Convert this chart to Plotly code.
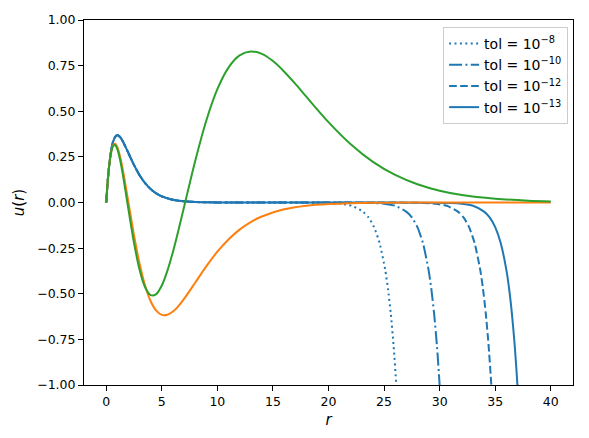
import plotly.graph_objects as go

# ---- data ----
# blue (ground-state-like) curve, common part before numerical divergence
r_blue = [0, 0.1, 0.2, 0.3, 0.4, 0.5, 0.6, 0.8, 1.0, 1.2, 1.5, 2, 2.5, 3, 3.5, 4, 4.5, 5, 6, 7, 8, 10, 12, 15]
u_blue = [0, 0.0905, 0.1637, 0.2222, 0.2681, 0.3033, 0.3293, 0.3595, 0.3679, 0.3614, 0.3347, 0.2707,
          0.2052, 0.1494, 0.1057, 0.0733, 0.0500, 0.0337, 0.0149, 0.0064, 0.0027, 0.0005, 0.0001, 0.0]

# divergent tails for each tolerance
r_tail_8 = [20.1, 21.1, 22.1, 23.1, 23.6, 24.1, 24.6, 25.1, 25.35, 25.6, 25.85, 26.1, 26.4]
u_tail_8 = [-0.0025, -0.0067, -0.018, -0.050, -0.082, -0.135, -0.223, -0.368, -0.472, -0.607, -0.779, -1.0, -1.35]
r_tail_10 = [20, 24, 25, 26, 27, 27.5, 28, 28.5, 29, 29.25, 29.5, 29.75, 30.0, 30.3]
u_tail_10 = [0, -0.0025, -0.0067, -0.018, -0.050, -0.082, -0.135, -0.223, -0.368, -0.472, -0.607, -0.779, -1.0, -1.35]
r_tail_12 = [20, 25, 28.65, 29.65, 30.65, 31.65, 32.15, 32.65, 33.15, 33.65, 33.9, 34.15, 34.4, 34.65, 34.95]
u_tail_12 = [0, 0, -0.0025, -0.0067, -0.018, -0.050, -0.082, -0.135, -0.223, -0.368, -0.472, -0.607, -0.779, -1.0, -1.35]
r_tail_13 = [20, 25, 31, 32, 33, 34, 34.5, 35, 35.5, 36, 36.25, 36.5, 36.75, 37.0, 37.3]
u_tail_13 = [0, 0, -0.0025, -0.0067, -0.018, -0.050, -0.082, -0.135, -0.223, -0.368, -0.472, -0.607, -0.779, -1.0, -1.35]

# orange curve
r_orange = [0, 0.2, 0.4, 0.6, 0.8, 1.0, 1.25, 1.5, 2, 2.5, 3, 3.5, 4, 4.5, 5, 5.5, 6, 6.5, 7, 8, 9, 10,
            11, 12, 13, 14, 16, 18, 20, 22, 25, 30, 35, 40]
u_orange = [0, 0.1629, 0.2620, 0.3111, 0.3217, 0.3033, 0.2509, 0.1771, 0.0, -0.1791, -0.3347, -0.4562,
            -0.5413, -0.5929, -0.6157, -0.6152, -0.5975, -0.5674, -0.5285, -0.4396, -0.3500, -0.2695,
            -0.2023, -0.1487, -0.1075, -0.0766, -0.0375, -0.0178, -0.0082, -0.0037, -0.0011, -0.0001, 0.0, 0.0]

# green curve
r_green = [0, 0.2, 0.4, 0.6, 0.8, 1.0, 1.25, 1.5, 1.9, 2.5, 3, 3.5, 4, 4.5, 5, 5.5, 6, 6.5, 7.1, 8, 9, 10,
           11, 12, 13, 14, 15, 16, 17, 18, 20, 22, 24, 26, 28, 30, 32, 35, 38, 40]
u_green = [0, 0.1627, 0.2609, 0.3078, 0.3150, 0.2919, 0.2327, 0.1517, 0.0, -0.2213, -0.3679, -0.4642,
           -0.5077, -0.5020, -0.4548, -0.3746, -0.2707, -0.1517, 0.0, 0.2264, 0.4481, 0.6209, 0.7393,
           0.8060, 0.8277, 0.8143, 0.7749, 0.7181, 0.6514, 0.5801, 0.4404, 0.3192, 0.2228, 0.1512,
           0.1001, 0.0649, 0.0414, 0.0209, 0.0099, 0.0060]

tol_labels = ["tol = 10<sup>\u22128</sup>", "tol = 10<sup>\u221210</sup>",
              "tol = 10<sup>\u221212</sup>", "tol = 10<sup>\u221213</sup>"]
x_ticks = [0, 5, 10, 15, 20, 25, 30, 35, 40]
y_ticks = [-1.0, -0.75, -0.5, -0.25, 0.0, 0.25, 0.5, 0.75, 1.0]

BLUE, ORANGE, GREEN = "#1f77b4", "#ff7f0e", "#2ca02c"
dashes = ["2px,3.4px", "13px,3.3px,2px,3.3px", "7.7px,3.3px", "solid"]
tails = [(r_tail_8, u_tail_8), (r_tail_10, u_tail_10), (r_tail_12, u_tail_12), (r_tail_13, u_tail_13)]

fig = go.Figure()
for lab, dash, (rt, ut) in zip(tol_labels, dashes, tails):
    fig.add_trace(go.Scatter(x=r_blue + rt, y=u_blue + ut, mode="lines", name=lab,
                             line=dict(color=BLUE, width=2, dash=dash, shape="spline", smoothing=0.6)))
fig.add_trace(go.Scatter(x=r_orange, y=u_orange, mode="lines", showlegend=False,
                         line=dict(color=ORANGE, width=2, shape="spline", smoothing=0.8)))
fig.add_trace(go.Scatter(x=r_green, y=u_green, mode="lines", showlegend=False,
                         line=dict(color=GREEN, width=2, shape="spline", smoothing=0.8)))

font = dict(family="DejaVu Sans", size=12.5, color="black")
fig.update_layout(
    width=589, height=438,
    margin=dict(l=84, r=16, t=15, b=53),
    paper_bgcolor="white", plot_bgcolor="white",
    font=font,
    showlegend=True,
    legend=dict(x=0.99, y=0.981, xanchor="right", yanchor="top",
                bgcolor="rgba(255,255,255,0.8)", bordercolor="#cccccc", borderwidth=1,
                font=dict(family="DejaVu Sans", size=14, color="black"),
                tracegroupgap=0, itemwidth=30),
)
fig.update_xaxes(range=[-2, 42], tickvals=x_ticks, ticks="outside", ticklen=5, tickcolor="black",
                 showline=True, linecolor="black", linewidth=1, mirror=True, showgrid=False,
                 zeroline=False, title=dict(text="<i>r</i>", standoff=6))
fig.update_yaxes(range=[-1, 1], tickvals=y_ticks, tickformat=".2f", ticks="outside", ticklen=5,
                 tickcolor="black", showline=True, linecolor="black", linewidth=1, mirror=True,
                 showgrid=False, zeroline=False, title=dict(text="<i>u</i>(<i>r</i>)", standoff=8))

fig.write_html("out.html")
